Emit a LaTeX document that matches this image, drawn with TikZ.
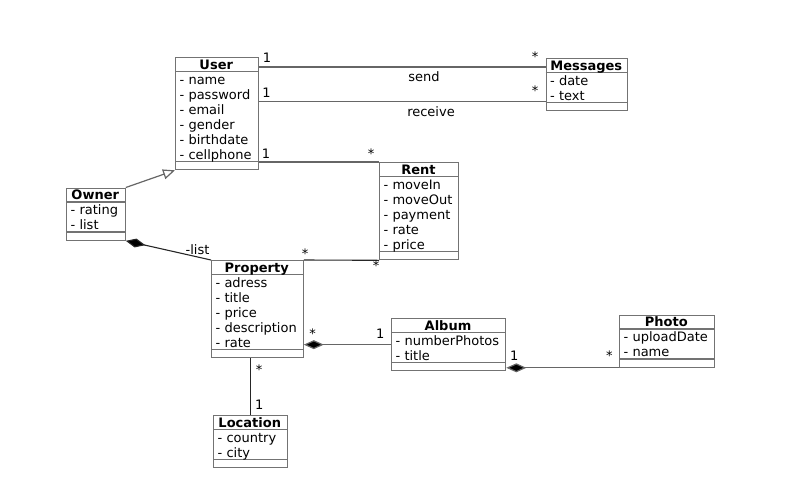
\documentclass[tikz,border=0pt]{standalone}
\usepackage{fontspec}
\setmainfont{DejaVu Sans}
\usetikzlibrary{arrows.meta}

\newcommand\umlfont{\fontsize{13}{15}\selectfont}

\tikzset{
  classbox/.style={draw=black!55, line width=1.3pt, inner sep=0pt, anchor=north west},
  classrule/.style={draw=black!55, line width=1.3pt},
  classtitle/.style={font=\umlfont\bfseries, anchor=base, inner sep=0pt},
  attr/.style={font=\umlfont, anchor=base west, inner sep=0pt},
  assoc/.style={draw=black!60, line width=1.2pt},
  darkassoc/.style={draw=black!85, line width=1.1pt},
  mult/.style={font=\umlfont, anchor=base, inner sep=0pt},
  rolelabel/.style={font=\umlfont, anchor=base, inner sep=0pt},
  comp/.style={{Diamond[length=20pt,width=9pt,fill=black]}-},
  gen/.style={-{Triangle[open,length=12pt,width=10pt,fill=white]}},
}

% #1 name, #2 left, #3 top, #4 right, #5 number of attributes, #6 title, #7 attributes
\newcommand\umlclass[7]{%
  \pgfmathsetmacro\clsA{#3+14.5}%
  \pgfmathsetmacro\clsB{#3+14.5+15*#5}%
  \pgfmathsetmacro\clsH{14.5+15*#5+7.5}%
  \node[classbox, minimum width={(#4-#2)*1pt}, minimum height={\clsH*1pt}] (#1) at (#2,#3) {};
  \draw[classrule] (#2,\clsA) -- (#4,\clsA);
  \draw[classrule] (#2,\clsB) -- (#4,\clsB);
  \node[classtitle] (#1-title) at ({(#2+#4)/2},{#3+12}) {#6};
  \foreach \a [count=\i] in {#7} {
    \node[attr] (#1-\i) at ({#2+4.5},{\clsA+12.8+15*(\i-1)}) {\a};
  }%
}

\begin{document}
\begin{tikzpicture}[x=1pt,y=-1pt]
\useasboundingbox (0,0) rectangle (786,488);

% classes
\umlclass{user}{175}{57}{257.5}{6}{User}{- name,- password,- email,- gender,- birthdate,- cellphone}
\umlclass{messages}{545.5}{58}{627}{2}{Messages}{- date,- text}
\umlclass{rent}{379}{162}{458}{5}{Rent}{- moveIn,- moveOut,- payment,- rate,- price}
\umlclass{owner}{66}{187.5}{124.5}{2}{Owner}{- rating,- list}
\umlclass{property}{211}{260}{302.5}{5}{Property}{- adress,- title,- price,- description,- rate}
\umlclass{album}{391}{318}{505}{2}{Album}{- numberPhotos,- title}
\umlclass{photo}{619}{314.5}{713.5}{2}{Photo}{- uploadDate,- name}
\umlclass{location}{213}{415}{286.5}{2}{Location}{- country,- city}

% associations
\coordinate (sendrow) at (0,67);
\coordinate (receiverow) at (0,101.5);
\draw[assoc] (user.east |- sendrow) -- (messages.west |- sendrow);
\draw[assoc] (user.east |- receiverow) -- (messages.west |- receiverow);
\draw[assoc] (user.east |- rent.north west) -- (rent.north west);
\draw[assoc, gen] (owner.north east) -- (user.south west);
\draw[darkassoc, comp] (owner.south east) -- (property.north west);
\draw[darkassoc] (property.north east) -- (rent.south west);
\draw[assoc, comp] (property.east |- album.west) -- (album.west);
\draw[assoc, comp] ([yshift=3.5pt]album.south east) -- (photo.south west);
\draw[darkassoc] (location.north |- property.south) -- (location.north);

% association names and roles
\node[rolelabel] (sendname) at (424,81.5) {send};
\node[rolelabel] (receivename) at (431,116) {receive};
\node[rolelabel] (listrole) at (197.5,254) {-list};

% multiplicities
\node[mult] (m1) at (267,62.5) {1};
\node[mult] (m2) at (535,61.4) {*};
\node[mult] (m3) at (266.5,97) {1};
\node[mult] (m4) at (535,95.7) {*};
\node[mult] (m5) at (266,158.7) {1};
\node[mult] (m6) at (371,158.4) {*};
\node[mult] (m7) at (305,258.7) {*};
\node[mult] (m8) at (376,270.4) {*};
\node[mult] (m9) at (312.7,338.4) {*};
\node[mult] (m10) at (380.3,338.5) {1};
\node[mult] (m11) at (514.3,360.7) {1};
\node[mult] (m12) at (609.3,360.7) {*};
\node[mult] (m13) at (259,374) {*};
\node[mult] (m14) at (259.3,409.7) {1};
\end{tikzpicture}
\end{document}
